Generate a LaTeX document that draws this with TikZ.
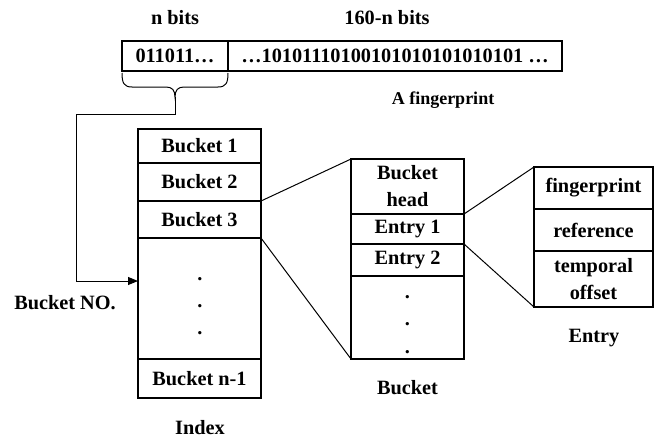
\documentclass[tikz,border=0pt]{standalone}
\usepackage{fontspec}
\setmainfont{Liberation Serif}
\usetikzlibrary{arrows.meta}
\begin{document}
\begin{tikzpicture}[x=1pt,y=-1pt,line width=1.3pt,
  every node/.style={font=\fontsize{20.3}{27}\selectfont\bfseries},
  cell/.style={draw,rectangle,inner sep=0pt,outer sep=0pt,align=center},
  lbl/.style={inner sep=0pt},
  dotlbl/.style={inner sep=0pt,anchor=base},
  conn/.style={line width=1pt}]
\useasboundingbox (0,0) rectangle (664,439);
% fingerprint
\node[cell,minimum width=106pt,minimum height=30pt] (fpl) at (175,56) {011011…};
\node[cell,minimum width=334pt,minimum height=30pt] (fpr) at (395,56) {…10101110100101010101010101 …};
\node[lbl] (nbits) at (175,18) {n bits};
\node[lbl] (rbits) at (387,18) {160-n bits};
\node[lbl,font=\fontsize{18}{22}\selectfont\bfseries] (afp) at (443,100) {A fingerprint};
% brace
\draw[conn] (122,73) .. controls (122,83) and (124,87) .. (132,87) -- (166,87) .. controls (172,87) and (175,90) .. (175,97)
  .. controls (175,90) and (178,87) .. (184,87) -- (218,87) .. controls (226,87) and (228,83) .. (228,73);
\coordinate (tip) at (175,97);
% index
\node[cell,minimum width=123pt,minimum height=34pt] (b1) at (199.5,146) {Bucket 1};
\node[cell,minimum width=123pt,minimum height=38pt] (b2) at (199.5,182) {Bucket 2};
\node[cell,minimum width=123pt,minimum height=37pt] (b3) at (199.5,219.5) {Bucket 3};
\node[cell,minimum width=123pt,minimum height=121pt] (bd) at (199.5,298.5) {};
\node[cell,minimum width=123pt,minimum height=39pt] (bn) at (199.5,378.5) {Bucket n-1};
\node[dotlbl] (id1) at (200,280) {.};
\node[dotlbl] (id2) at (200,307) {.};
\node[dotlbl] (id3) at (200,334) {.};
\node[lbl] (bno) at (65,303) {Bucket NO.};
\node[lbl] (index) at (200,428) {Index};
\coordinate (atip) at (138,281);
\draw[conn,-{Triangle[length=10pt,width=8pt]}] (tip) -- (175,114) -| (76,281) -- (atip);
% bucket
\node[cell,minimum width=113pt,minimum height=55pt] (bh) at (407.5,186.5) {Bucket\\head};
\node[cell,minimum width=113pt,minimum height=30pt] (e1) at (407.5,229) {Entry 1};
\node[cell,minimum width=113pt,minimum height=32pt] (e2) at (407.5,260) {Entry 2};
\node[cell,minimum width=113pt,minimum height=83pt] (ed) at (407.5,317.5) {};
\node[dotlbl] (bd1) at (407.5,298) {.};
\node[dotlbl] (bd2) at (407.5,325) {.};
\node[dotlbl] (bd3) at (407.5,353) {.};
\node[lbl] (bucket) at (407.5,388) {Bucket};
% entry
\node[cell,minimum width=119pt,minimum height=42pt] (efp) at (593.5,188) {fingerprint};
\node[cell,minimum width=119pt,minimum height=42pt] (eref) at (593.5,230) {reference};
\node[cell,minimum width=119pt,minimum height=56pt] (eto) at (593.5,279) {temporal\\offset};
\node[lbl] (entry) at (594,338) {Entry};
% connectors
\draw[conn] (b2.south east) -- (bh.north west);
\draw[conn] (b3.south east) -- (ed.south west);
\draw[conn] (bh.south east) -- (efp.north west);
\draw[conn] (e1.south east) -- (eto.south west);
\end{tikzpicture}
\end{document}
